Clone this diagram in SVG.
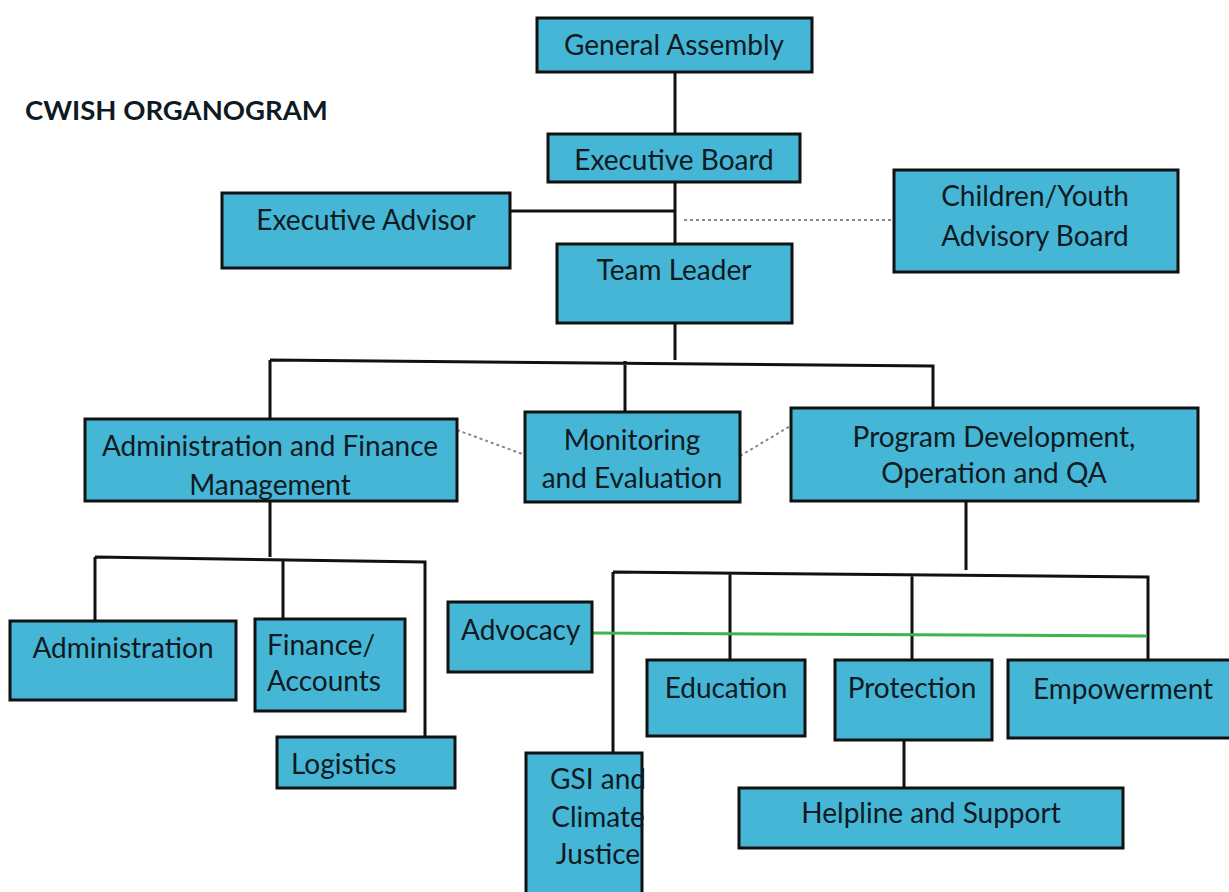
<svg xmlns="http://www.w3.org/2000/svg" width="1229" height="892" viewBox="0 0 1229 892">
<style>
.box{fill:#45b6d5;stroke:#111;stroke-width:3}
.t{font-family:Lato,"Liberation Sans",sans-serif;font-size:28px;fill:#0f1a22}
.c{text-anchor:middle}
.ln{stroke:#111;stroke-width:3;fill:none}
.dot{stroke:#888;stroke-width:2;stroke-dasharray:3 3;fill:none}
.grn{stroke:#3cb54a;stroke-width:3;fill:none}
</style>
<rect width="1229" height="892" fill="#fff"/>
<text class="t" x="25" y="120" style="font-weight:bold;font-size:27.5px">CWISH ORGANOGRAM</text>
<g id="connectors">
<path class="ln" d="M675 72V134M675 182V244M510 211H675M675 323V360M270 360L933 366V408M270 360V419M625 361V412"/>
<path class="dot" d="M684 220H894M457 430L525 455M740 456L797 422"/>
<path class="ln" d="M270 501V557M95 557L425 562V737M95 557V621M283 559V619"/>
<path class="ln" d="M966 501V570M613 572L1148 577V660M613 572V753M730 573V660M912 575V660M904 740V788"/>
<path class="grn" d="M592 633L1146 636"/>
</g>
<g id="general-assembly"><rect class="box" x="537" y="18" width="275" height="54"/><text class="t c" x="674" y="55">General Assembly</text></g>
<g id="executive-board"><rect class="box" x="548" y="134" width="252" height="48"/><text class="t c" x="674" y="170">Executive Board</text></g>
<g id="executive-advisor"><rect class="box" x="222" y="193" width="288" height="75"/><text class="t c" x="366" y="230">Executive Advisor</text></g>
<g id="children-youth-advisory-board"><rect class="box" x="894" y="170" width="284" height="102"/><text class="t c" x="1035" y="206">Children/Youth</text><text class="t c" x="1035" y="246">Advisory Board</text></g>
<g id="team-leader"><rect class="box" x="557" y="244" width="235" height="79"/><text class="t c" x="674" y="280">Team Leader</text></g>
<g id="admin-finance"><rect class="box" x="85" y="419" width="372" height="82"/><text class="t c" x="270" y="456">Administration and Finance</text><text class="t c" x="270" y="495">Management</text></g>
<g id="monitoring-evaluation"><rect class="box" x="525" y="412" width="215" height="90"/><text class="t c" x="632" y="450">Monitoring</text><text class="t c" x="632" y="488">and Evaluation</text></g>
<g id="program-development"><rect class="box" x="791" y="408" width="407" height="93"/><text class="t c" x="994" y="447">Program Development,</text><text class="t c" x="994" y="483">Operation  and QA</text></g>
<g id="administration"><rect class="box" x="10" y="621" width="226" height="79"/><text class="t c" x="123" y="658">Administration</text></g>
<g id="finance-accounts"><rect class="box" x="255" y="619" width="150" height="92"/><text class="t" x="267" y="655">Finance/</text><text class="t" x="267" y="691">Accounts</text></g>
<g id="logistics"><rect class="box" x="277" y="737" width="178" height="51"/><text class="t" x="291" y="774">Logistics</text></g>
<g id="advocacy"><rect class="box" x="448" y="602" width="144" height="70"/><text class="t" x="461" y="640">Advocacy</text></g>
<g id="education"><rect class="box" x="647" y="660" width="158" height="76"/><text class="t c" x="726" y="698">Education</text></g>
<g id="protection"><rect class="box" x="835" y="660" width="157" height="80"/><text class="t c" x="912" y="698">Protection</text></g>
<g id="empowerment"><rect class="box" x="1008" y="660" width="230" height="78"/><text class="t c" x="1123" y="699">Empowerment</text></g>
<g id="helpline-support"><rect class="box" x="739" y="788" width="384" height="60"/><text class="t c" x="931" y="823">Helpline and Support</text></g>
<g id="gsi-climate-justice"><rect class="box" x="526" y="753" width="116" height="150"/><text class="t c" x="598" y="789">GSI and</text><text class="t c" x="598" y="827">Climate</text><text class="t c" x="598" y="864">Justice</text></g>
</svg>
